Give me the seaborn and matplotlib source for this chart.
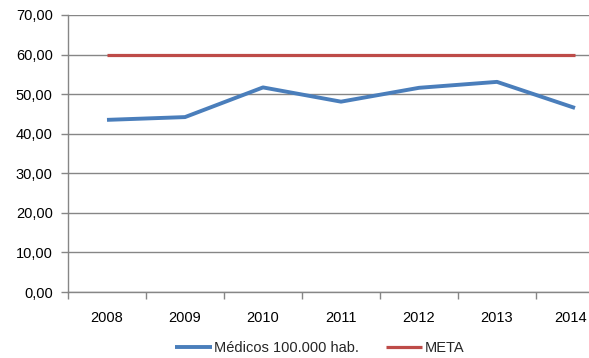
import matplotlib
matplotlib.use("Agg")
import matplotlib.pyplot as plt
import matplotlib.transforms as mtransforms
import seaborn as sns
import pandas as pd
from matplotlib.ticker import FixedLocator

# Physicians per 100,000 inhabitants vs. target
years = [2008, 2009, 2010, 2011, 2012, 2013, 2014]
medicos = [43.5, 44.2, 51.7, 48.1, 51.6, 53.1, 46.5]
meta = [60.0, 60.0, 60.0, 60.0, 60.0, 60.0, 60.0]
y_ticks = [0, 10, 20, 30, 40, 50, 60, 70]
y_labels = ["0,00", "10,00", "20,00", "30,00", "40,00", "50,00", "60,00", "70,00"]

label_medicos = "Médicos 100.000 hab."
label_meta = "META"
blue = "#4A7EBB"
red = "#BE4B48"
grey = "#868686"

sns.set_theme(style="white")
plt.rcParams["font.family"] = ["Liberation Sans", "DejaVu Sans"]

df = pd.DataFrame({"ano": years, "medicos": medicos, "meta": meta})

fig = plt.figure(figsize=(5.89, 3.58), dpi=100)
# the plot area runs a little past the right edge of the figure
ax = fig.add_axes([68 / 589, 66 / 358, 546 / 589, 277 / 358])

sns.lineplot(data=df, x="ano", y="medicos", ax=ax, color=blue, linewidth=2.8,
             label=label_medicos, solid_capstyle="butt")
sns.lineplot(data=df, x="ano", y="meta", ax=ax, color=red, linewidth=2.3,
             label=label_meta, solid_capstyle="butt")

ax.set_xlim(years[0] - 0.5, years[-1] + 0.5)
ax.set_ylim(0, 70)
ax.set_xlabel("")
ax.set_ylabel("")

ax.set_yticks(y_ticks)
ax.set_yticklabels(y_labels)
ax.yaxis.grid(True, color=grey, linewidth=1.0)
ax.set_axisbelow(True)

ax.set_xticks(years)
ax.set_xticklabels([str(y) for y in years])
ax.xaxis.set_minor_locator(FixedLocator([y - 0.5 for y in years] + [years[-1] + 0.5]))

for side in ("top", "right"):
    ax.spines[side].set_visible(False)
for side in ("left", "bottom"):
    ax.spines[side].set_color(grey)
    ax.spines[side].set_linewidth(1.0)

ax.tick_params(axis="x", which="major", length=0, pad=14, labelsize=10.5, colors="black")
ax.tick_params(axis="x", which="minor", length=5, width=1, color=grey, direction="out", bottom=True)
ax.tick_params(axis="y", which="major", length=5, width=1, color=grey, direction="out",
               left=True, pad=6, labelsize=10.5, labelcolor="black")

# keep the last year label inside the figure edge
last = ax.get_xticklabels()[-1]
last.set_transform(last.get_transform() +
                   mtransforms.ScaledTranslation(-4 / 100, 0, fig.dpi_scale_trans))

ax.get_legend().remove()
handles, labels = ax.get_legend_handles_labels()
fig.legend(handles, labels, loc="center", bbox_to_anchor=(0.543, 0.028), ncol=2,
           frameon=False, fontsize=10.5, handlelength=2.5, handletextpad=0.2,
           columnspacing=1.8)

fig.savefig("out.png", dpi=100)
